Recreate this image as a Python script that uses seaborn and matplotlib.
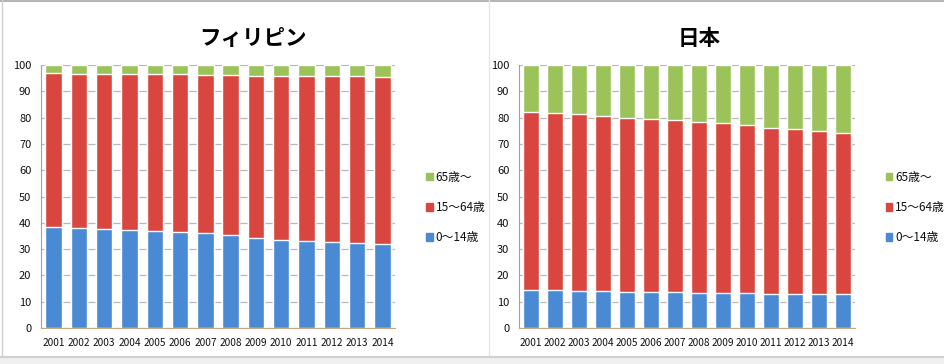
import matplotlib
matplotlib.use("Agg")
import matplotlib.pyplot as plt
import seaborn as sns
import pandas as pd
from matplotlib.patches import Rectangle
from matplotlib.lines import Line2D

years = ["2001", "2002", "2003", "2004", "2005", "2006", "2007",
         "2008", "2009", "2010", "2011", "2012", "2013", "2014"]

# フィリピン (%)
ph_0_14 = [38.4, 38.0, 37.6, 37.3, 37.0, 36.5, 36.0, 35.2, 34.4, 33.5, 33.2, 32.8, 32.4, 32.0]
ph_65 = [3.2, 3.3, 3.3, 3.4, 3.5, 3.6, 3.7, 3.8, 4.0, 4.1, 4.2, 4.2, 4.3, 4.4]

# 日本 (%)
jp_0_14 = [14.6, 14.3, 14.1, 13.9, 13.8, 13.7, 13.5, 13.4, 13.3, 13.2, 13.0, 12.9, 12.8, 12.8]
jp_65 = [17.7, 18.1, 18.7, 19.4, 20.0, 20.4, 20.9, 21.5, 22.2, 22.9, 23.8, 24.3, 25.1, 25.8]

labels = ["65歳～", "15～64歳", "0～14歳"]
colors = {"65歳～": "#9cc25a", "15～64歳": "#d9463f", "0～14歳": "#4a89d3"}

sns.set_style("white")
plt.rcParams['font.family'] = ['Noto Sans CJK JP', 'DejaVu Sans']
plt.rcParams['text.color'] = '#111111'
plt.rcParams['xtick.color'] = '#111111'
plt.rcParams['ytick.color'] = '#111111'

fig = plt.figure(figsize=(9.45, 3.64), dpi=100)

# frame and divider like the screenshot
fig.patches.append(Rectangle((0, 0), 1, 1, transform=fig.transFigure,
                             facecolor="white", edgecolor="none", zorder=-10))
fig.lines.append(Line2D([0, 1], [0.997, 0.997], transform=fig.transFigure, color="#b5b5b5", lw=1.5))
fig.lines.append(Line2D([0.002, 0.002], [0.02, 1], transform=fig.transFigure, color="#cfcfcf", lw=1))
fig.lines.append(Line2D([0.517, 0.517], [0.02, 1], transform=fig.transFigure, color="#e6e6e6", lw=1))
fig.lines.append(Line2D([0, 1], [0.02, 0.02], transform=fig.transFigure, color="#d0d0d0", lw=1.5))
fig.patches.append(Rectangle((0, 0), 1, 0.02, transform=fig.transFigure,
                             facecolor="#f0f0f0", edgecolor="none", zorder=-5))

panels = [
    ("フィリピン", ph_0_14, ph_65, [0.0434, 0.0989, 0.3746, 0.7225], 0.268, 0.440),
    ("日本", jp_0_14, jp_65, [0.5492, 0.0989, 0.3556, 0.7225], 0.740, 0.926),
]

for title, young, old, pos, title_x, leg_x in panels:
    ax = fig.add_axes(pos)
    df = pd.DataFrame({"year": years, "0～14歳": young, "65歳～": old})
    df["15～64歳"] = 100 - df["0～14歳"] - df["65歳～"]
    # cumulative heights, drawn from the top layer down
    df["top_65"] = 100.0
    df["top_15"] = df["0～14歳"] + df["15～64歳"]
    df["top_0"] = df["0～14歳"]
    for col, lab in [("top_65", "65歳～"), ("top_15", "15～64歳"), ("top_0", "0～14歳")]:
        sns.barplot(x="year", y=col, data=df, color=colors[lab], width=0.65,
                    saturation=1, ax=ax, zorder=3)
    ax.set_ylim(0, 100)
    ax.set_xlim(-0.5, len(years) - 0.5)
    ax.set_yticks(range(0, 101, 10))
    ax.yaxis.grid(True, color="#b8b8b8", lw=0.9, zorder=0)
    ax.set_xlabel("")
    ax.set_ylabel("")
    for s in ["top", "right"]:
        ax.spines[s].set_visible(False)
    ax.spines["left"].set_color("#a0a0a0")
    ax.spines["bottom"].set_color("#c8a880")
    ax.tick_params(axis="y", labelsize=8, length=3, color="#a0a0a0", pad=4)
    ax.tick_params(axis="x", labelsize=7.3, length=0, pad=7)
    fig.text(title_x, 0.895, title, ha="center", va="center", fontsize=15.5,
             fontweight="bold", color="black")
    handles = [Rectangle((0, 0), 1, 1, color=colors[l]) for l in labels]
    fig.legend(handles, labels, loc="center left", bbox_to_anchor=(leg_x, 0.43),
               frameon=False, fontsize=8.5, handlelength=0.55, handleheight=0.6,
               handletextpad=0.25, labelspacing=1.45)

fig.savefig("out.png", dpi=100)
